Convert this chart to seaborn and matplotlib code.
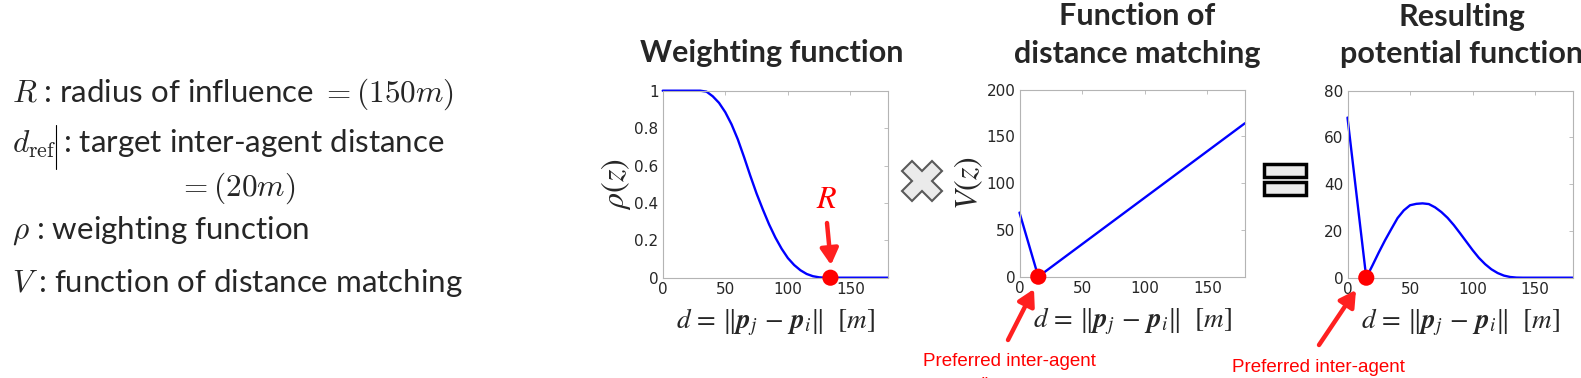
import matplotlib
matplotlib.use("Agg")
import matplotlib.pyplot as plt
import seaborn as sns
from matplotlib.patches import Rectangle, FancyArrowPatch, ArrowStyle
from matplotlib.lines import Line2D

# distance grid [m] and curves
dist = list(range(0, 185, 5))
rho_vals = [1, 1, 1, 1, 1, 1, 1, 0.995, 0.97, 0.935, 0.885, 0.82, 0.74, 0.645,
            0.545, 0.45, 0.365, 0.285, 0.215, 0.155, 0.105, 0.068, 0.04, 0.02,
            0.008, 0.002, 0, 0, 0, 0, 0, 0, 0, 0, 0, 0, 0]
v_dist = [0, 15, 180]
v_vals = [68.5, 0, 164]
res_vals = [68.5, 45.7, 22.8, 0, 5.3, 10.8, 16, 20.8, 25.5, 28.8, 31, 31.6,
            31.8, 31.5, 30.1, 28.1, 25.6, 22.5, 19, 15.4, 11.8, 8.5, 5.8, 3.6,
            2.0, 0.9, 0.3, 0.05, 0, 0, 0, 0, 0, 0, 0, 0, 0]
R_mark = 134
d_ref_mark = 15

x_ticks = [0, 50, 100, 150]
rho_ticks = [0, 0.2, 0.4, 0.6, 0.8, 1]
rho_ticklabels = ['0', '0.2', '0.4', '0.6', '0.8', '1']
v_ticks = [0, 50, 100, 150, 200]
res_ticks = [0, 20, 40, 60, 80]

W, H = 1581, 378
sns.set_style("white")
plt.rcParams['font.family'] = ['DejaVu Sans']


def fx(x):
    return x / W


def fy(y):
    return 1 - y / H


fig = plt.figure(figsize=(W / 100, H / 100), dpi=100)


def make_ax(left, top, right, bottom):
    ax = fig.add_axes([fx(left), fy(bottom), (right - left) / W, (bottom - top) / H])
    for s in ax.spines.values():
        s.set_color('#b4b4b4')
        s.set_linewidth(0.8)
    ax.tick_params(direction='in', top=True, right=True, length=3, width=0.6,
                   color='#b4b4b4', labelcolor='#262626', labelsize=11, pad=3)
    ax.set_xlim(0, 180)
    ax.set_xticks(x_ticks)
    ax.set_xticklabels([str(t) for t in x_ticks])
    ax.set_xlabel(r"$d\,=\,\Vert\boldsymbol{p}_j\,-\,\boldsymbol{p}_i\Vert\ \ [m]$",
                  fontsize=19.5, math_fontfamily='stix', labelpad=7)
    return ax


ax1 = make_ax(662.7, 90.7, 888, 277.7)
ax2 = make_ax(1019.5, 89.5, 1245, 276.7)
ax3 = make_ax(1347.5, 90.7, 1572.7, 277.7)

sns.lineplot(x=dist, y=rho_vals, ax=ax1, color='blue', lw=1.7, clip_on=False)
sns.lineplot(x=v_dist, y=v_vals, ax=ax2, color='blue', lw=1.7, clip_on=False)
sns.lineplot(x=dist, y=res_vals, ax=ax3, color='blue', lw=1.7, clip_on=False)

ax1.set_ylim(0, 1)
ax1.set_yticks(rho_ticks)
ax1.set_yticklabels(rho_ticklabels)
ax2.set_ylim(0, 200)
ax2.set_yticks(v_ticks)
ax2.set_yticklabels([str(t) for t in v_ticks])
ax3.set_ylim(0, 80)
ax3.set_yticks(res_ticks)
ax3.set_yticklabels([str(t) for t in res_ticks])

ax1.set_ylabel(r"$\rho(z)$", fontsize=23, math_fontfamily='stix', labelpad=1)
ax2.set_ylabel(r"$V(z)$", fontsize=23, math_fontfamily='stix', labelpad=1)

for ax, xd in [(ax1, R_mark), (ax2, d_ref_mark), (ax3, d_ref_mark)]:
    sns.scatterplot(x=[xd], y=[0], ax=ax, color='red', s=135, edgecolor='none',
                    clip_on=False, zorder=5)

# titles
tkw = dict(ha='center', va='center', fontsize=22, fontweight='bold', family='Lato')
fig.text(fx(772), fy(53), "Weighting function", **tkw)
fig.text(fx(1137), fy(16), "Function of", **tkw)
fig.text(fx(1137), fy(54), "distance matching", **tkw)
fig.text(fx(1462), fy(17), "Resulting", **tkw)
fig.text(fx(1462), fy(54), "potential function", **tkw)

# definitions on the left
lkw = dict(va='center', fontsize=22.5, family='Lato', math_fontfamily='cm')
fig.text(fx(12), fy(94), r"$R$ : radius of influence $= (150m)$", **lkw)
fig.text(fx(12), fy(144), r"$d_{\rm ref}$ : target inter-agent distance", **lkw)
fig.text(fx(237), fy(188), r"$= (20m)$", ha='center', va='center', fontsize=22.5,
         math_fontfamily='cm')
fig.text(fx(12), fy(231), r"$\rho$ : weighting function", **lkw)
fig.text(fx(12), fy(283), r"$V$ : function of distance matching", **lkw)
fig.add_artist(Line2D([fx(56), fx(56)], [fy(125), fy(169)], color='black', lw=0.8))

# operator symbols
fig.add_artist(Line2D([fx(922)], [fy(181)], marker='X', markersize=29,
                      markerfacecolor='#ebebeb', markeredgecolor='#5a5a5a',
                      markeredgewidth=1.5, transform=fig.transFigure))
for top in [163.5, 181.5]:
    fig.add_artist(Rectangle((fx(1264), fy(top + 13)), 42 / W, 13 / H,
                             facecolor='#ebebeb', edgecolor='black', lw=2.5,
                             transform=fig.transFigure))

# red annotations
fig.text(fx(827), fy(199), r"$R$", color='red', ha='center', va='center',
         fontsize=23, math_fontfamily='stix')
astyle = ArrowStyle('-|>', head_length=0.8, head_width=0.45)
for (xa, ya), (xb, yb) in [((827, 223), (831, 265)),
                           ((1008, 340), (1034, 289)),
                           ((1319, 345), (1356, 290))]:
    fig.add_artist(FancyArrowPatch((fx(xa), fy(ya)), (fx(xb), fy(yb)),
                                   transform=fig.transFigure, arrowstyle=astyle,
                                   mutation_scale=12, color='#ff2020', lw=3.2,
                                   shrinkA=0, shrinkB=0))
pkw = dict(color='red', ha='center', va='center', fontsize=13.5,
           family='Liberation Sans')
for xc, yc in [(1009, 361), (1318, 367)]:
    fig.text(fx(xc), fy(yc), "Preferred inter-agent", **pkw)
    fig.text(fx(xc), fy(yc + 24), "distance", **pkw)

fig.savefig("out.png", dpi=100)
